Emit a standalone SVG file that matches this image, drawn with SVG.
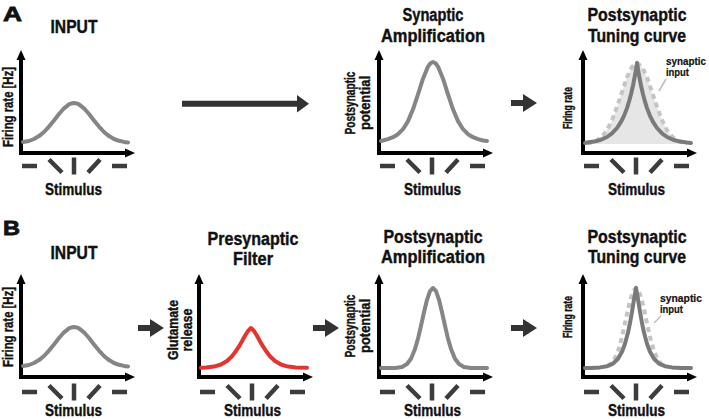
<svg xmlns="http://www.w3.org/2000/svg" xmlns:xlink="http://www.w3.org/1999/xlink" width="709" height="419" viewBox="0 0 709 419">
<style>
text{font-family:"Liberation Sans",Arial,sans-serif;font-weight:bold;fill:#111;stroke:#111;stroke-width:0.4}
.letter{font-size:21px;stroke-width:0.8}
.title{font-size:18px;text-anchor:middle}
.stim{font-size:16px;text-anchor:middle}
.ylab{font-size:14px;text-anchor:middle}
.ylab2{font-size:13px;text-anchor:middle}
.small{font-size:10.5px;stroke-width:0.2}
.ax{fill:none;stroke:#000;stroke-width:4}
.ah{fill:#000}
.mk{fill:none;stroke:#3c3c3c;stroke-width:4.5}
.curve{fill:none;stroke:#858585;stroke-width:4;stroke-linejoin:round;stroke-linecap:round}
.dark{stroke:#7a7a7a}
.red{stroke:#e3342f}
.dash{fill:none;stroke:#c4c4c4;stroke-width:4;stroke-dasharray:5 4}
.shade{fill:#e6e6e6}
.lead{stroke:#bdbdbd;stroke-width:1.5}
.arrow{fill:#333}
</style>
<defs>
<g id="axes">
<path class="ax" d="M0,-95 V0 H106"/>
<path class="ah" d="M0,-103 L-4.5,-93 L4.5,-93 Z"/>
<path class="ah" d="M114,0 L104,-4.5 L104,4.5 Z"/>
</g>
<path id="marks" class="mk" d="M1,0 H16 M28,-6.5 L41,6.5 M53,-8.5 V8.5 M67,6.5 L79,-6.5 M91,0 H106"/>
<polyline id="inputCurve" class="curve" points="2,-11 8,-12 13,-14 18,-16.9 23,-21 28,-26.4 33,-32.6 38,-39 43,-44.7 48,-48.6 50.5,-49.6 53,-50 55.5,-49.6 58,-48.6 63,-44.7 68,-39 73,-32.6 78,-26.4 83,-21 88,-16.9 93,-14 98,-12.2 103,-11.1 107,-10.6"/>
</defs>

<g id="label-A"><text class="letter" x="3" y="21" textLength="19" lengthAdjust="spacingAndGlyphs">A</text></g>
<g id="label-B"><text class="letter" x="3" y="235" textLength="17" lengthAdjust="spacingAndGlyphs">B</text></g>

<g id="A-input" transform="translate(21,153)">
<use xlink:href="#axes"/>
<use xlink:href="#marks" transform="translate(0,13)"/>
<use xlink:href="#inputCurve"/>
<text class="title" x="53" y="-120" textLength="47" lengthAdjust="spacingAndGlyphs">INPUT</text>
<text class="ylab" transform="translate(-8,-46) rotate(-90)" textLength="80" lengthAdjust="spacingAndGlyphs" style="font-size:15px">Firing rate [Hz]</text>
<text class="stim" x="52.5" y="42" textLength="57" lengthAdjust="spacingAndGlyphs">Stimulus</text>
</g>

<g id="A-amplification" transform="translate(379,153)">
<use xlink:href="#axes"/>
<use xlink:href="#marks" transform="translate(0,13)"/>
<polyline class="curve" points="2,-12 4,-12.5 9,-13.9 14,-15.8 19,-18.8 24,-23.8 29,-31.9 34,-43.7 39,-58.7 44,-74.3 49,-86.4 51.5,-89.8 54,-91 56.5,-89.8 59,-86.4 64,-74.3 69,-58.7 74,-43.7 79,-31.9 84,-23.8 89,-18.8 94,-15.8 99,-13.9 104,-12.5 108,-12"/>
<text class="title" x="54" y="-132" textLength="61" lengthAdjust="spacingAndGlyphs">Synaptic</text>
<text class="title" x="54" y="-111" textLength="104" lengthAdjust="spacingAndGlyphs">Amplification</text>
<text class="ylab" transform="translate(-24,-50) rotate(-90)" textLength="63" lengthAdjust="spacingAndGlyphs">Postsynaptic</text>
<text class="ylab" transform="translate(-9,-50) rotate(-90)" textLength="54" lengthAdjust="spacingAndGlyphs">potential</text>
<text class="stim" x="53.5" y="42" textLength="57" lengthAdjust="spacingAndGlyphs">Stimulus</text>
</g>

<g id="A-tuning" transform="translate(583,153)">
<use xlink:href="#axes"/>
<use xlink:href="#marks" transform="translate(0,13)"/>
<polygon class="shade" points="4,-9 4,-9.6 9,-10.6 14,-12.6 19,-16.4 24,-22.9 29,-32.9 34,-46.1 39,-61.2 44,-75.7 49,-86.1 54,-90 59,-86.1 64,-75.7 69,-61.2 74,-46.1 79,-32.9 84,-22.9 89,-16.4 94,-12.6 99,-10.6 104,-9.6 104,-9"/>
<polyline class="dash" points="4,-9.6 9,-10.6 14,-12.6 19,-16.4 24,-22.9 29,-32.9 34,-46.1 39,-61.2 44,-75.7 49,-86.1 54,-90 59,-86.1 64,-75.7 69,-61.2 74,-46.1 79,-32.9 84,-22.9 89,-16.4 94,-12.6 99,-10.6 104,-9.6"/>
<polyline class="curve dark" points="2,-10.1 4,-10.4 11,-11.4 18,-13.3 24,-16 29,-19.6 34,-25 38,-31.1 41,-37.1 44,-44.9 46,-51.3 48,-58.7 50,-67.5 52,-77.8 54,-90 56,-77.8 58,-67.5 60,-58.7 62,-51.3 64,-44.9 67,-37.1 70,-31.1 74,-25 79,-19.6 84,-16 90,-13.3 97,-11.4 104,-10.4 108,-10"/>
<line class="lead" x1="76" y1="-62" x2="83" y2="-74"/>
<text class="small" x="83" y="-88" textLength="40" lengthAdjust="spacingAndGlyphs">synaptic</text>
<text class="small" x="83" y="-77" textLength="23" lengthAdjust="spacingAndGlyphs">input</text>
<text class="title" x="54" y="-132" textLength="99" lengthAdjust="spacingAndGlyphs">Postsynaptic</text>
<text class="title" x="54" y="-111" textLength="98" lengthAdjust="spacingAndGlyphs">Tuning curve</text>
<text class="ylab2" transform="translate(-11,-45) rotate(-90)" textLength="42" lengthAdjust="spacingAndGlyphs">Firing rate</text>
<text class="stim" x="53.5" y="42" textLength="57" lengthAdjust="spacingAndGlyphs">Stimulus</text>
</g>

<g id="B-input" transform="translate(21,377)">
<use xlink:href="#axes"/>
<use xlink:href="#marks" transform="translate(0,15)"/>
<use xlink:href="#inputCurve"/>
<text class="title" x="53" y="-118" textLength="47" lengthAdjust="spacingAndGlyphs">INPUT</text>
<text class="ylab" transform="translate(-8,-50) rotate(-90)" textLength="80" lengthAdjust="spacingAndGlyphs" style="font-size:15px">Firing rate [Hz]</text>
<text class="stim" x="52.5" y="39" textLength="57" lengthAdjust="spacingAndGlyphs">Stimulus</text>
</g>

<g id="B-filter" transform="translate(199,377)">
<use xlink:href="#axes"/>
<use xlink:href="#marks" transform="translate(0,15)"/>
<polyline class="curve red" points="2,-9.2 7,-9.5 15,-10.4 22,-12.5 28,-16 33,-20.8 37,-26 40,-30.6 43,-35.8 46,-41.2 49,-46 52,-49 55,-46 58,-41.2 61,-35.8 64,-30.6 67,-26 71,-20.8 76,-16 82,-12.5 89,-10.4 97,-9.5 108,-9.2"/>
<text class="title" x="54" y="-132" textLength="91" lengthAdjust="spacingAndGlyphs">Presynaptic</text>
<text class="title" x="54" y="-112" textLength="40" lengthAdjust="spacingAndGlyphs">Filter</text>
<text class="ylab" transform="translate(-21,-47) rotate(-90)" textLength="60" lengthAdjust="spacingAndGlyphs">Glutamate</text>
<text class="ylab" transform="translate(-7,-47) rotate(-90)" textLength="43" lengthAdjust="spacingAndGlyphs">release</text>
<text class="stim" x="53.5" y="39" textLength="57" lengthAdjust="spacingAndGlyphs">Stimulus</text>
</g>

<g id="B-amplification" transform="translate(379,377)">
<use xlink:href="#axes"/>
<use xlink:href="#marks" transform="translate(0,15)"/>
<polyline class="curve" points="2,-9 16,-9.1 23,-10.1 28,-13 32,-18.3 36,-28 39,-38.4 42,-51.2 45,-64.8 48,-77.2 51,-85.9 54,-89 57,-85.9 60,-77.2 63,-64.8 66,-51.2 69,-38.4 72,-28 76,-18.3 80,-13 85,-10.1 92,-9.1 108,-9"/>
<text class="title" x="54" y="-134" textLength="99" lengthAdjust="spacingAndGlyphs">Postsynaptic</text>
<text class="title" x="54" y="-114" textLength="104" lengthAdjust="spacingAndGlyphs">Amplification</text>
<text class="ylab" transform="translate(-24,-51) rotate(-90)" textLength="63" lengthAdjust="spacingAndGlyphs">Postsynaptic</text>
<text class="ylab" transform="translate(-9,-51) rotate(-90)" textLength="54" lengthAdjust="spacingAndGlyphs">potential</text>
<text class="stim" x="53.5" y="39" textLength="57" lengthAdjust="spacingAndGlyphs">Stimulus</text>
</g>

<g id="B-tuning" transform="translate(583,377)">
<use xlink:href="#axes"/>
<use xlink:href="#marks" transform="translate(0,15)"/>
<polyline class="dash" points="25,-10.8 27,-12.1 31,-16.8 35,-25.9 38,-36.1 41,-49 44,-63.2 47,-76.3 50,-85.6 53,-89 56,-85.6 59,-76.3 62,-63.2 65,-49 68,-36.1 71,-25.9 75,-16.8 79,-12.1 81,-10.8"/>
<polyline class="curve dark" points="2,-9 8,-9.1 17,-9.6 24,-10.8 30,-13.4 35,-18.3 39,-25.3 42,-33.3 45,-44.4 47,-54 49,-65.2 51,-77.6 53,-89 55,-77.6 57,-65.2 59,-54 61,-44.4 64,-33.3 67,-25.3 71,-18.3 76,-13.4 82,-10.8 89,-9.6 98,-9.1 108,-9"/>
<line class="lead" x1="71" y1="-54" x2="78" y2="-61"/>
<text class="small" x="77" y="-75" textLength="42" lengthAdjust="spacingAndGlyphs">synaptic</text>
<text class="small" x="77" y="-64" textLength="23" lengthAdjust="spacingAndGlyphs">input</text>
<text class="title" x="54" y="-134" textLength="99" lengthAdjust="spacingAndGlyphs">Postsynaptic</text>
<text class="title" x="54" y="-114" textLength="98" lengthAdjust="spacingAndGlyphs">Tuning curve</text>
<text class="ylab2" transform="translate(-11,-60) rotate(-90)" textLength="42" lengthAdjust="spacingAndGlyphs">Firing rate</text>
<text class="stim" x="53.5" y="39" textLength="57" lengthAdjust="spacingAndGlyphs">Stimulus</text>
</g>

<g id="connectors">
<path class="arrow" d="M182,100.7 H297 V95 L309,103.7 L297,112.4 V106.7 H182 Z"/>
<path class="arrow" d="M511,100 H523 V94 L537,103 L523,112 V106 H511 Z"/>
<path class="arrow" d="M138,325 H150 V319 L164,328 L150,337 V331 H138 Z"/>
<path class="arrow" d="M313,325 H325 V319 L339,328 L325,337 V331 H313 Z"/>
<path class="arrow" d="M511,325 H523 V319 L537,328 L523,337 V331 H511 Z"/>
</g>
</svg>
